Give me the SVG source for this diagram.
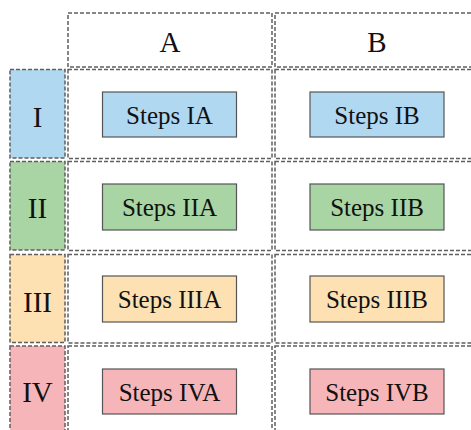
<svg xmlns="http://www.w3.org/2000/svg" width="471" height="430" viewBox="0 0 471 430">
<style>
.cell{fill:#ffffff;stroke:#5f5f5f;stroke-width:1.5;stroke-dasharray:4 2}
.step{stroke:#555555;stroke-width:1.2}
.big{font-family:"Liberation Serif","Times New Roman",serif;font-size:29px;fill:#111;text-anchor:middle}
.txt{font-family:"Liberation Serif","Times New Roman",serif;font-size:25px;fill:#111;text-anchor:middle}
.blue{fill:#b1d8f1}.green{fill:#a8d5a3}.yellow{fill:#fde1b3}.pink{fill:#f6b5b9}
</style>
<rect width="471" height="430" fill="#ffffff"/>
<g id="grid">
<rect class="cell" x="68" y="13" width="204" height="54"/>
<rect class="cell" x="275" y="13" width="210" height="54"/>
<rect class="cell" x="68" y="69.5" width="204" height="89"/>
<rect class="cell" x="275" y="69.5" width="210" height="89"/>
<rect class="cell" x="68" y="161.5" width="204" height="89"/>
<rect class="cell" x="275" y="161.5" width="210" height="89"/>
<rect class="cell" x="68" y="254.5" width="204" height="88.5"/>
<rect class="cell" x="275" y="254.5" width="210" height="88.5"/>
<rect class="cell" x="68" y="346" width="204" height="100"/>
<rect class="cell" x="275" y="346" width="210" height="100"/>
</g>
<g id="header-A"><text class="big" x="170" y="52">A</text></g>
<g id="header-B"><text class="big" x="377" y="52">B</text></g>
<g id="row-I"><rect class="cell blue" x="10" y="69.5" width="55" height="88.5"/><text class="big" x="37.5" y="127">I</text></g>
<g id="row-II"><rect class="cell green" x="10" y="161.5" width="55" height="88.5"/><text class="big" x="37.5" y="218">II</text></g>
<g id="row-III"><rect class="cell yellow" x="10" y="254.5" width="55" height="88"/><text class="big" x="37.5" y="312">III</text></g>
<g id="row-IV"><rect class="cell pink" x="10" y="346" width="55" height="100"/><text class="big" x="37.5" y="402">IV</text></g>
<g id="steps-IA"><rect class="step blue" x="102.5" y="92" width="134" height="45"/><text class="txt" x="169.5" y="124">Steps IA</text></g>
<g id="steps-IB"><rect class="step blue" x="310" y="92" width="134" height="45"/><text class="txt" x="377" y="124">Steps IB</text></g>
<g id="steps-IIA"><rect class="step green" x="102.5" y="184" width="134" height="46"/><text class="txt" x="169.5" y="216">Steps IIA</text></g>
<g id="steps-IIB"><rect class="step green" x="310" y="184" width="134" height="46"/><text class="txt" x="377" y="216">Steps IIB</text></g>
<g id="steps-IIIA"><rect class="step yellow" x="102.5" y="276" width="134" height="46"/><text class="txt" x="169.5" y="308">Steps IIIA</text></g>
<g id="steps-IIIB"><rect class="step yellow" x="310" y="276" width="134" height="46"/><text class="txt" x="377" y="308">Steps IIIB</text></g>
<g id="steps-IVA"><rect class="step pink" x="102.5" y="369" width="134" height="45"/><text class="txt" x="169.5" y="401">Steps IVA</text></g>
<g id="steps-IVB"><rect class="step pink" x="310" y="369" width="134" height="45"/><text class="txt" x="377" y="401">Steps IVB</text></g>
<g id="connectors"></g>
</svg>
